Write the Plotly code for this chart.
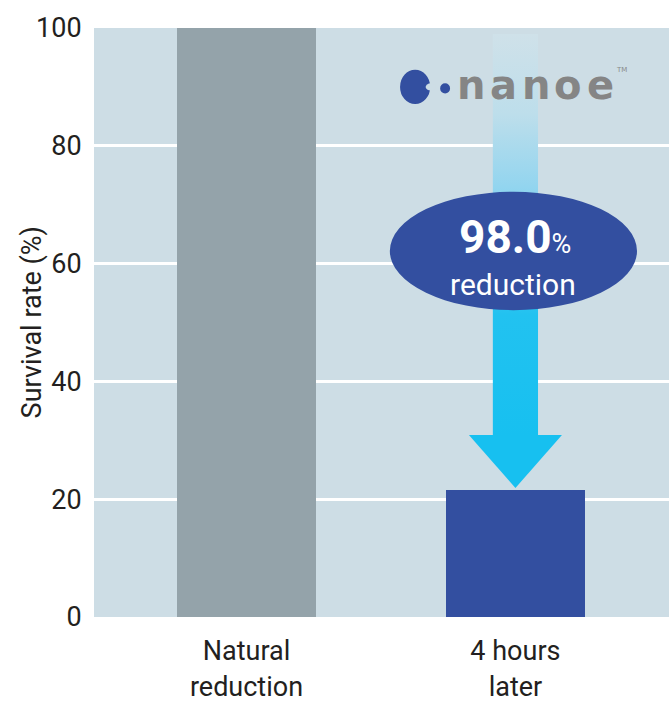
import plotly.graph_objects as go

categories = ["Natural<br>reduction", "4 hours<br>later"]
survival = [100, 21.5]
bar_colors = ["#94a3aa", "#334fa0"]
y_ticks = [0, 20, 40, 60, 80, 100]
reduction_label = "98.0"
logo_word = "nanoe"
y_title = "Survival rate (%)"

BG = "#cddde5"
CYAN = "#17c0f0"

x_pos = list(range(len(categories)))

fig = go.Figure()

shaft_top, head_top, tip = 99.0, 30.9, 21.9
sx0, sx1 = 0.916, 1.084
hx0, hx1 = 0.827, 1.173

fig.add_trace(go.Bar(
    x=x_pos, y=survival, marker=dict(color=bar_colors, line=dict(width=0)),
    width=0.517, hoverinfo="skip", showlegend=False,
))

fig.add_trace(go.Scatter(
    x=[sx0, sx1, sx1, sx0, sx0],
    y=[shaft_top, shaft_top, head_top - 0.5, head_top - 0.5, shaft_top],
    mode="lines", fill="toself", line=dict(width=0),
    fillgradient=dict(
        type="vertical", start=head_top, stop=shaft_top,
        colorscale=[[0, CYAN], [0.3, "#22c2f0"], [0.45, "#5ccbf0"],
                    [0.62, "#93d5ef"], [0.8, "#bddeeb"], [1, "#cfe1e9"]],
    ),
    hoverinfo="skip", showlegend=False,
))

fig.add_trace(go.Scatter(
    x=[hx0, hx1, 1.0, hx0],
    y=[head_top, head_top, tip, head_top],
    mode="lines", fill="toself", fillcolor=CYAN, line=dict(width=0),
    hoverinfo="skip", showlegend=False,
))

shapes = [
    dict(type="circle", xref="x", yref="y", x0=0.533, x1=1.452, y0=52.1, y1=72.2,
         fillcolor="#334fa0", line=dict(width=0), layer="above"),
    dict(type="circle", xref="x", yref="y", x0=0.571, x1=0.683, y0=87.1, y1=92.9,
         fillcolor="#334fa0", line=dict(width=0), layer="above"),
    dict(type="circle", xref="x", yref="y", x0=0.666, x1=0.705, y0=89.4, y1=90.6,
         fillcolor=BG, line=dict(width=0), layer="above"),
    dict(type="circle", xref="x", yref="y", x0=0.720, x1=0.757, y0=88.9, y1=90.6,
         fillcolor="#334fa0", line=dict(width=0), layer="above"),
]

annotations = [
    dict(x=1.0, y=64.5, xref="x", yref="y",
         text="<b>" + reduction_label + "</b><span style='font-size:27px;font-weight:normal'>%</span>",
         showarrow=False, xanchor="center", yanchor="middle",
         font=dict(family="Roboto, DejaVu Sans, sans-serif", size=46, color="white")),
    dict(x=0.99, y=56.5, xref="x", yref="y", text="reduction",
         showarrow=False, xanchor="center", yanchor="middle",
         font=dict(family="Roboto, DejaVu Sans, sans-serif", size=30, color="white")),
    dict(x=1.393, y=92.8, xref="x", yref="y", text="TM",
         showarrow=False, xanchor="center", yanchor="middle",
         font=dict(family="DejaVu Sans, sans-serif", size=7, color="#8a8a8a")),
    dict(x=-0.108, y=0.5, xref="paper", yref="paper", text=y_title, textangle=-90,
         showarrow=False, xanchor="center", yanchor="middle",
         font=dict(family="Roboto, DejaVu Sans, sans-serif", size=27, color="#231f20")),
]

letter_x = [0.835, 0.955, 1.075, 1.195, 1.315]
for ch, lx in zip(logo_word, letter_x):
    annotations.append(dict(
        x=lx, y=90.3, xref="x", yref="y", text="<b>" + ch + "</b>",
        showarrow=False, xanchor="center", yanchor="middle",
        font=dict(family="DejaVu Sans, sans-serif", size=40, color="#858585"),
    ))

fig.update_layout(
    width=669, height=702,
    margin=dict(l=94, r=0, t=28, b=85, autoexpand=False),
    paper_bgcolor="white", plot_bgcolor=BG,
    shapes=shapes, annotations=annotations,
    bargap=0, showlegend=False,
    font=dict(family="Roboto, DejaVu Sans, sans-serif", color="#231f20"),
)

fig.update_xaxes(
    range=[-0.567, 1.571], tickvals=x_pos, ticktext=categories, automargin=False,
    showgrid=False, zeroline=False, showline=False,
    ticks="outside", ticklen=10, tickcolor="rgba(0,0,0,0)",
    tickfont=dict(size=27, color="#231f20"),
)
fig.update_yaxes(
    range=[0, 100], tickvals=y_ticks, showgrid=True, gridcolor="white", gridwidth=2.5,
    zeroline=False, showline=False, automargin=False,
    ticks="outside", ticklen=6, tickcolor="rgba(0,0,0,0)",
    tickfont=dict(size=27, color="#231f20"),
)

fig.write_html(
    "out.html",
    config={"displayModeBar": False},
    post_script="document.body.style.margin='0';document.body.style.overflow='hidden';",
)
